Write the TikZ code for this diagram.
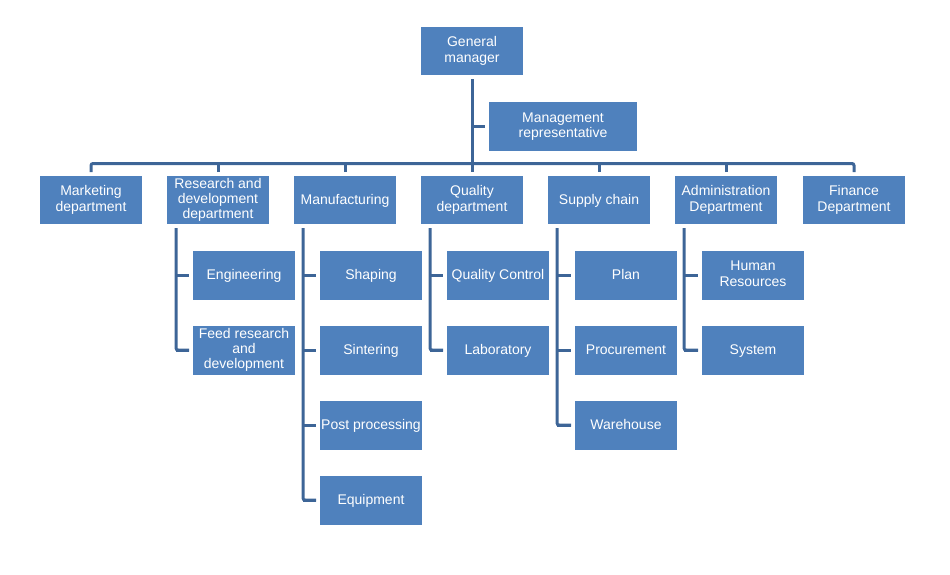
\documentclass[tikz,border=0pt]{standalone}
\usepackage{fontspec}
\setmainfont{Liberation Sans}
\usepackage{tikz}
\usetikzlibrary{calc}
\definecolor{boxblue}{HTML}{4F81BD}
\definecolor{linkblue}{HTML}{3D6597}

\begin{document}
\begin{tikzpicture}[x=1pt, y=-1pt,
  box/.style={fill=boxblue, text=white, align=center, minimum width=102pt,
    minimum height=48pt, inner sep=1pt, outer sep=4pt,
    font=\fontsize{14}{15.4}\selectfont,
    execute at begin node={\rule[-3pt]{0pt}{15.6pt}},
    execute at end node={\rule[-3pt]{0pt}{15.6pt}}},
  link/.style={draw=linkblue, line width=3pt, rounded corners=2pt}]
  \useasboundingbox (0,0) rectangle (950,574);
  % top
  \node[box] (gm) at (472,51) {General\\manager};
  \node[box, minimum width=148pt, minimum height=49pt] (mr) at (563,126.5) {Management\\representative};
  \coordinate (bar) at (472,163.5);
  % departments
  \node[box] (mkt) at (91,200) {Marketing\\department};
  \node[box] (rd)  at (218,200) {Research and\\development\\department};
  \node[box] (mfg) at (345,200) {Manufacturing};
  \node[box] (qa)  at (472,200) {Quality\\department};
  \node[box] (sc)  at (599,200) {Supply chain};
  \node[box] (adm) at (726,200) {Administration\\Department};
  \node[box] (fin) at (854,200) {Finance\\Department};
  % sections
  \foreach \t [count=\i] in {Engineering, {Feed research\\and\\development}}
    \node[box, minimum height=49pt] (rd\i) at (244,200+75*\i) {\t};
  \foreach \t [count=\i] in {Shaping, Sintering, Post processing, Equipment}
    \node[box, minimum height=49pt] (mfg\i) at (371,200+75*\i) {\t};
  \foreach \t [count=\i] in {Quality Control, Laboratory}
    \node[box, minimum height=49pt] (qa\i) at (498,200+75*\i) {\t};
  \foreach \t [count=\i] in {Plan, Procurement, Warehouse}
    \node[box, minimum height=49pt] (sc\i) at (626,200+75*\i) {\t};
  \foreach \t [count=\i] in {{Human\\Resources}, System}
    \node[box, minimum height=49pt] (adm\i) at (753,200+75*\i) {\t};

  % links
  \draw[link] (gm.south) -- (qa.north);
  \draw[link] (gm.south |- mr.west) -- (mr.west);
  \draw[link] (mkt.north) |- (bar) -| (fin.north);
  \foreach \n in {rd,mfg,sc,adm}
    \draw[link] (\n.north) -- (\n.north |- bar);
  \foreach \n/\k in {rd/2,mfg/4,qa/2,sc/3,adm/2} {
    \draw[link] ([xshift=13pt]\n.south west) |- (\n\k.west);
    \foreach \i in {1,...,\k}
      \draw[link] ([xshift=13pt]\n.south west |- \n\i.west) -- (\n\i.west);
  }
\end{tikzpicture}
\end{document}
